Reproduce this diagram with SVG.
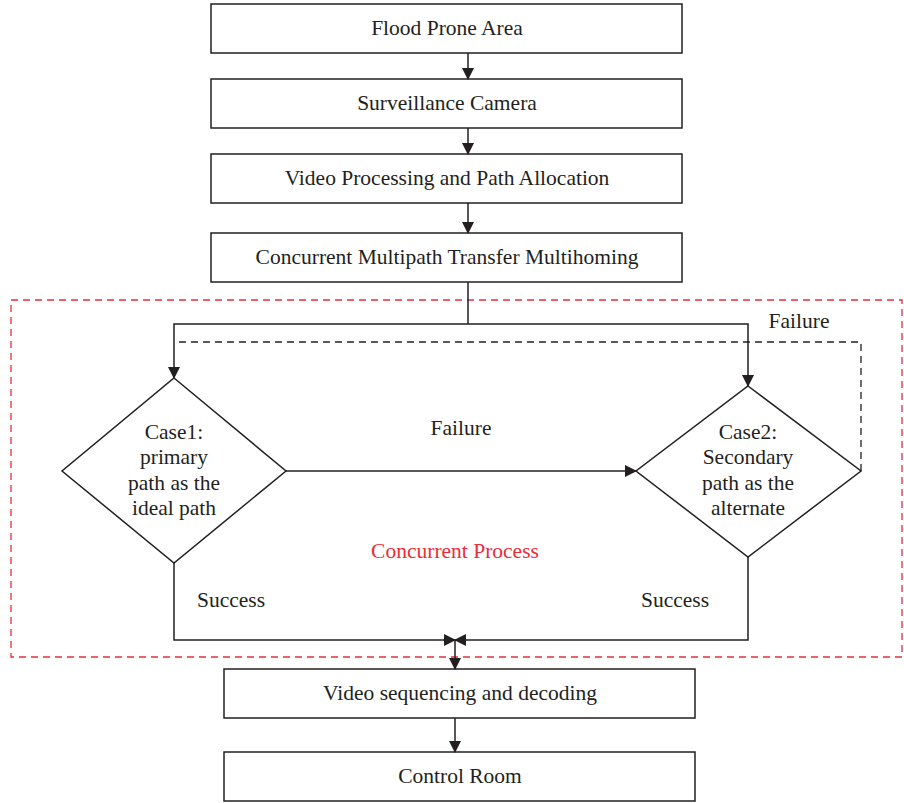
<svg xmlns="http://www.w3.org/2000/svg" width="904" height="803" viewBox="0 0 904 803">
<style>
.box{fill:#fff;stroke:#231f20;stroke-width:1.5}
.ln{fill:none;stroke:#231f20;stroke-width:1.5}
.dl{fill:none;stroke:#231f20;stroke-width:1.3;stroke-dasharray:7,5}
.red{fill:none;stroke:#ee2b34;stroke-width:1.3;stroke-dasharray:7,5}
text{font-family:"Liberation Serif","Times New Roman",serif;font-size:21.5px;fill:#231f20;text-anchor:middle}
.rt{fill:#ee2b34}
</style>
<defs>
<marker id="ah" markerWidth="12" markerHeight="12" refX="11" refY="6" orient="auto" markerUnits="userSpaceOnUse">
<path d="M0,0 L12,6 L0,12 Z" fill="#231f20"/>
</marker>
</defs>
<rect class="red" x="11" y="300" width="891" height="357"/>
<g id="n1"><rect class="box" x="211" y="4" width="471" height="49"/><text x="447" y="35">Flood Prone Area</text></g>
<g id="n2"><rect class="box" x="211" y="79" width="471" height="49"/><text x="447" y="110">Surveillance Camera</text></g>
<g id="n3"><rect class="box" x="211" y="154" width="471" height="49"/><text x="447" y="185">Video Processing and Path Allocation</text></g>
<g id="n4"><rect class="box" x="211" y="233" width="471" height="49"/><text x="447" y="264">Concurrent Multipath Transfer Multihoming</text></g>
<g id="d1"><polygon class="box" points="174,378 286,471 174,563 62,471"/>
<text x="174" y="439">Case1:</text><text x="174" y="464">primary</text><text x="174" y="490">path as the</text><text x="174" y="515">ideal path</text></g>
<g id="d2"><polygon class="box" points="748,386 861,471 748,557 636,471"/>
<text x="748" y="439">Case2:</text><text x="748" y="464">Secondary</text><text x="748" y="490">path as the</text><text x="748" y="515">alternate</text></g>
<g id="n5"><rect class="box" x="224" y="669" width="471" height="49"/><text x="460" y="700">Video sequencing and decoding</text></g>
<g id="n6"><rect class="box" x="224" y="752" width="471" height="49"/><text x="460" y="783">Control Room</text></g>
<g id="connectors">
<line class="ln" x1="468" y1="53" x2="468" y2="79" marker-end="url(#ah)"/>
<line class="ln" x1="468" y1="128" x2="468" y2="154" marker-end="url(#ah)"/>
<line class="ln" x1="468" y1="203" x2="468" y2="233" marker-end="url(#ah)"/>
<polyline class="ln" points="468,282 468,324"/>
<polyline class="ln" points="468,324 174,324 174,378" marker-end="url(#ah)"/>
<polyline class="ln" points="468,324 748,324 748,386" marker-end="url(#ah)"/>
<polyline class="dl" points="861,471 861,342 174,342"/>
<line class="ln" x1="286" y1="471" x2="636" y2="471" marker-end="url(#ah)"/>
<polyline class="ln" points="174,563 174,640 455,640" marker-end="url(#ah)"/>
<polyline class="ln" points="748,557 748,640 455,640" marker-end="url(#ah)"/>
<line class="ln" x1="455" y1="640" x2="455" y2="669" marker-end="url(#ah)"/>
<line class="ln" x1="455" y1="718" x2="455" y2="752" marker-end="url(#ah)"/>
</g>
<text x="799" y="328">Failure</text>
<text x="461" y="435">Failure</text>
<text x="231" y="607">Success</text>
<text x="675" y="607">Success</text>
<text class="rt" x="455" y="558">Concurrent Process</text>
</svg>
